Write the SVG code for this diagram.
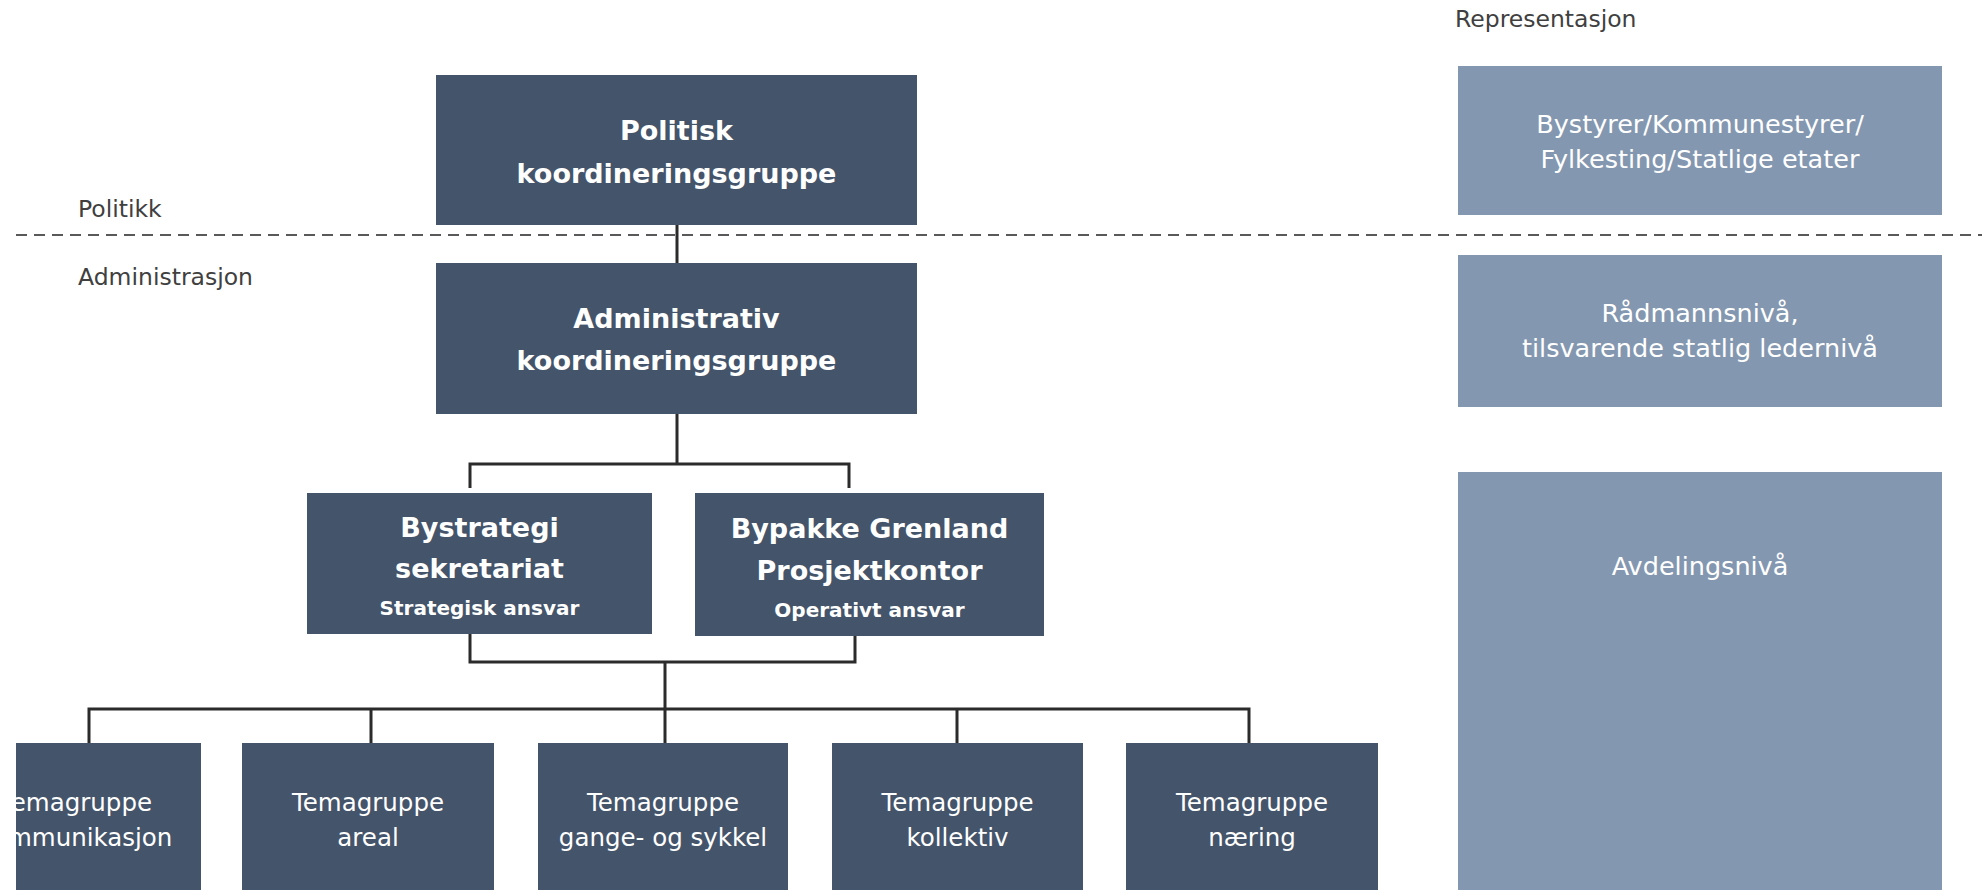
<svg xmlns="http://www.w3.org/2000/svg" width="1982" height="890" viewBox="0 0 1982 890">
<style>
.dark{fill:#44546a}
.light{fill:#8497b0}
.tb{font-family:"DejaVu Sans",sans-serif;font-weight:bold;fill:#fff;text-anchor:middle}
.tr{font-family:"DejaVu Sans",sans-serif;fill:#fff;text-anchor:middle;font-size:24.5px}
.tl{font-family:"DejaVu Sans",sans-serif;fill:#fff;text-anchor:middle;font-size:25.5px}
.lbl{font-family:"DejaVu Sans",sans-serif;fill:#404040;font-size:23.5px}
.con{fill:none;stroke:#2b2b2b;stroke-width:3}
</style>
<defs><clipPath id="c"><rect x="16" y="0" width="1966" height="890"/></clipPath></defs>
<g clip-path="url(#c)">
<line x1="16" y1="235" x2="1982" y2="235" stroke="#595959" stroke-width="2" stroke-dasharray="11 7"/>
<text class="lbl" x="78" y="217">Politikk</text>
<text class="lbl" x="78" y="285">Administrasjon</text>
<text class="lbl" x="1455" y="27">Representasjon</text>
<g id="connectors">
<path class="con" d="M677 225V263"/>
<path class="con" d="M677 414V464M470 488V464H849V488"/>
<path class="con" d="M470 634V662H855V636M665 662V709"/>
<path class="con" d="M89 743V709H1249V743M371 709V743M665 709V743M957 709V743"/>
</g>
<g id="politisk"><rect class="dark" x="436" y="75" width="481" height="150"/>
<text class="tb" x="676.5" y="140" font-size="27">Politisk</text>
<text class="tb" x="676.5" y="183" font-size="27">koordineringsgruppe</text></g>
<g id="administrativ"><rect class="dark" x="436" y="263" width="481" height="151"/>
<text class="tb" x="676.5" y="328" font-size="27">Administrativ</text>
<text class="tb" x="676.5" y="370" font-size="27">koordineringsgruppe</text></g>
<g id="bystrategi"><rect class="dark" x="307" y="493" width="345" height="141"/>
<text class="tb" x="479.5" y="537" font-size="27">Bystrategi</text>
<text class="tb" x="479.5" y="578" font-size="27">sekretariat</text>
<text class="tb" x="479.5" y="615" font-size="20">Strategisk ansvar</text></g>
<g id="bypakke"><rect class="dark" x="695" y="493" width="349" height="143"/>
<text class="tb" x="869.5" y="538" font-size="27">Bypakke Grenland</text>
<text class="tb" x="869.5" y="580" font-size="27">Prosjektkontor</text>
<text class="tb" x="869.5" y="617" font-size="20">Operativt ansvar</text></g>
<g id="t1"><rect class="dark" x="-51" y="743" width="252" height="160"/>
<text class="tr" x="76" y="811">Temagruppe</text>
<text class="tr" x="76" y="846">kommunikasjon</text></g>
<g id="t2"><rect class="dark" x="242" y="743" width="252" height="160"/>
<text class="tr" x="368" y="811">Temagruppe</text>
<text class="tr" x="368" y="846">areal</text></g>
<g id="t3"><rect class="dark" x="538" y="743" width="250" height="160"/>
<text class="tr" x="663" y="811">Temagruppe</text>
<text class="tr" x="663" y="846">gange- og sykkel</text></g>
<g id="t4"><rect class="dark" x="832" y="743" width="251" height="160"/>
<text class="tr" x="957.5" y="811">Temagruppe</text>
<text class="tr" x="957.5" y="846">kollektiv</text></g>
<g id="t5"><rect class="dark" x="1126" y="743" width="252" height="160"/>
<text class="tr" x="1252" y="811">Temagruppe</text>
<text class="tr" x="1252" y="846">næring</text></g>
<g id="r1"><rect class="light" x="1458" y="66" width="484" height="149"/>
<text class="tl" x="1700" y="133">Bystyrer/Kommunestyrer/</text>
<text class="tl" x="1700" y="168">Fylkesting/Statlige etater</text></g>
<g id="r2"><rect class="light" x="1458" y="255" width="484" height="152"/>
<text class="tl" x="1700" y="322">Rådmannsnivå,</text>
<text class="tl" x="1700" y="357">tilsvarende statlig ledernivå</text></g>
<g id="r3"><rect class="light" x="1458" y="472" width="484" height="430"/>
<text class="tl" x="1700" y="575">Avdelingsnivå</text></g>
</g>
</svg>
